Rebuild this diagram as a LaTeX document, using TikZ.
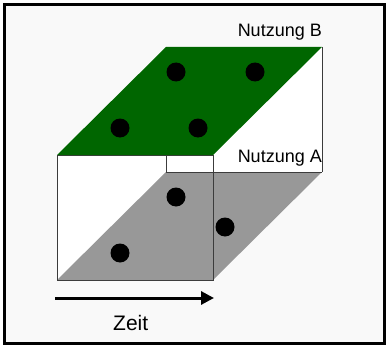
\documentclass[tikz,border=0pt]{standalone}
\usepackage{fontspec}
\setmainfont{Liberation Sans}
\usetikzlibrary{arrows.meta}
\definecolor{bgcol}{RGB}{249,249,249}
\definecolor{topgreen}{RGB}{0,102,0}
\definecolor{floorgray}{RGB}{152,152,152}
\definecolor{edgecol}{RGB}{60,60,60}
\begin{document}
\begin{tikzpicture}[x=1pt,y=-1pt,
  dot/.style={circle,fill=black,draw=none,minimum size=19pt,inner sep=0pt},
  edge/.style={draw=edgecol,line width=0.8pt},
  lbl/.style={font=\fontsize{18}{18}\selectfont,inner sep=0pt}]
\useasboundingbox (0,0) rectangle (388,345);
\fill[white] (0,0) rectangle (388,345);
\fill[bgcol] (4.5,4.5) rectangle (384,343);
% box corners
\coordinate (fbl) at (57,280);
\coordinate (fbr) at (213,280);
\coordinate (ftl) at (57,155);
\coordinate (ftr) at (213,155);
\coordinate (bbl) at (166,172);
\coordinate (bbr) at (322,172);
\coordinate (btl) at (166,47);
\coordinate (btr) at (322,47);
% faces
\fill[white] (ftl) rectangle (fbr);
\fill[white] (ftr) -- (btr) -- (bbr) -- (fbr) -- cycle;
\fill[floorgray] (fbl) -- (fbr) -- (bbr) -- (bbl) -- cycle;
% edges
\draw[edge] (ftl) rectangle (fbr);
\draw[edge] (btr) -- (bbr);
\draw[edge] (bbl) -- (bbr);
\draw[edge] (ftl -| bbl) -- (bbl);
\fill[topgreen] (ftl) -- (ftr) -- (btr) -- (btl) -- cycle;
% dots
\node[dot] (t1) at (176,72) {};
\node[dot] (t2) at (255,72) {};
\node[dot] (t3) at (120,128) {};
\node[dot] (t4) at (198,128) {};
\node[dot] (b1) at (176,197) {};
\node[dot] (b2) at (225,227) {};
\node[dot] (b3) at (120,253) {};
% labels
\node[lbl,anchor=base east] (nb) at (322,37) {Nutzung B};
\node[lbl,anchor=base east] (na) at (322,162) {Nutzung A};
\node[lbl,anchor=base west,font=\fontsize{21}{21}\selectfont] (zeit) at (113,330) {Zeit};
% arrow
\coordinate (as) at (55,298);
\coordinate (ae) at (214,298);
\draw[line width=3pt,-{Triangle[length=13pt,width=13pt]}] (as) -- (ae);
% frame
\draw[line width=3pt] (4.5,4.5) rectangle (384,343);
\end{tikzpicture}
\end{document}
